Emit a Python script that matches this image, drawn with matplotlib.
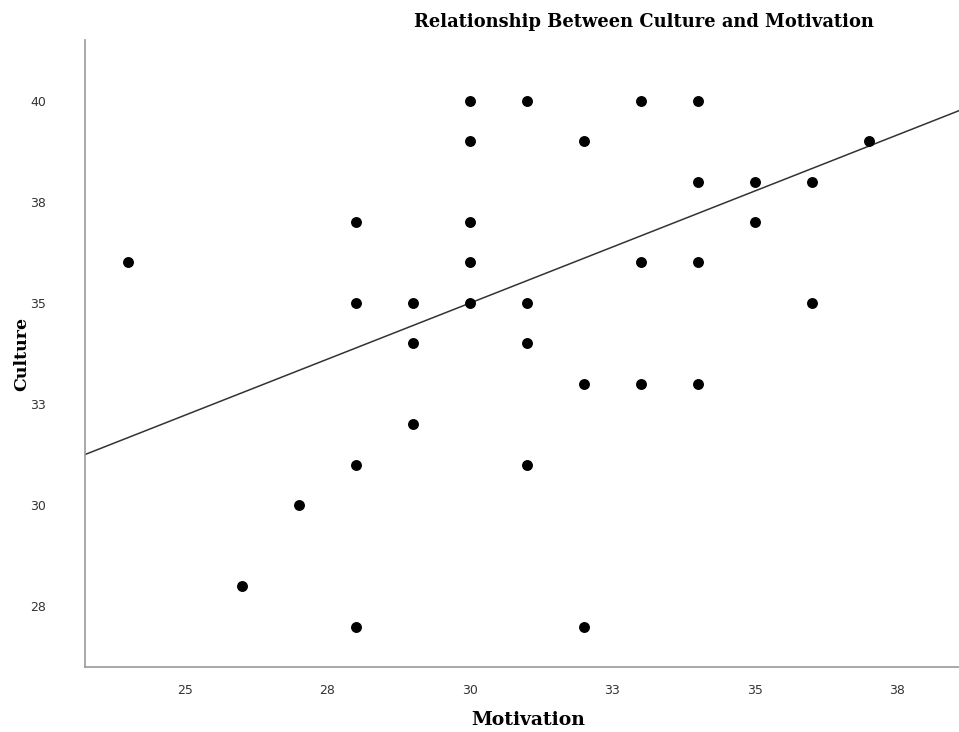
import numpy as np
import matplotlib
matplotlib.use("Agg")
import matplotlib.pyplot as plt

motivation = [24, 26, 27, 28, 28, 28, 28, 29, 29, 29, 30, 30, 30, 30, 30,
              31, 31, 31, 31, 32, 32, 32, 33, 33, 33, 34, 34, 34, 34, 35, 35,
              36, 36, 37]
culture = [36, 28, 30, 37, 35, 31, 27, 35, 34, 32, 40, 39, 37, 36, 35,
           40, 35, 34, 31, 39, 33, 27, 40, 36, 33, 40, 38, 36, 33, 38, 37,
           38, 35, 39]

# fit line (total): culture = intercept + slope * motivation
fit_intercept = 18.36
fit_slope = 0.5545

x_ticks = [25, 27.5, 30, 32.5, 35, 37.5]
x_tick_labels = ["25", "28", "30", "33", "35", "38"]
y_ticks = [27.5, 30, 32.5, 35, 37.5, 40]
y_tick_labels = ["28", "30", "33", "35", "38", "40"]

title = "Relationship Between Culture and Motivation"
x_label = "Motivation"
y_label = "Culture"

fig = plt.figure(figsize=(9.59, 7.32), dpi=100)
ax = fig.add_axes([85/959, 1 - 667/732, (959-85)/959, (667-40)/732])

ax.scatter(motivation, culture, s=62, color="black", zorder=3, linewidths=0)

xlim = (23.25, 38.58)
ylim = (26.0, 41.5)
xs = np.array(xlim)
ax.plot(xs, fit_intercept + fit_slope * xs, color="#333333", lw=1.1, zorder=2)

ax.set_xlim(*xlim)
ax.set_ylim(*ylim)
ax.set_xticks(x_ticks)
ax.set_xticklabels(x_tick_labels)
ax.set_yticks(y_ticks)
ax.set_yticklabels(y_tick_labels)
ax.tick_params(length=0, labelsize=9, labelcolor="#333333", pad=12)
ax.tick_params(axis="y", pad=28)

for s in ["top", "right"]:
    ax.spines[s].set_visible(False)
for s in ["left", "bottom"]:
    ax.spines[s].set_color("#999999")
    ax.spines[s].set_linewidth(1.2)

fig.text(644/959, 1 - 22/732, title, ha="center", va="center",
         family="DejaVu Serif", weight="bold", fontsize=12.9)
fig.text(528/959, 1 - 720/732, x_label, ha="center", va="center",
         family="DejaVu Serif", weight="bold", fontsize=13.5)
fig.text(22/959, 1 - 354/732, y_label, ha="center", va="center", rotation=90,
         family="DejaVu Serif", weight="bold", fontsize=12.5)

fig.savefig("out.png", dpi=100)
